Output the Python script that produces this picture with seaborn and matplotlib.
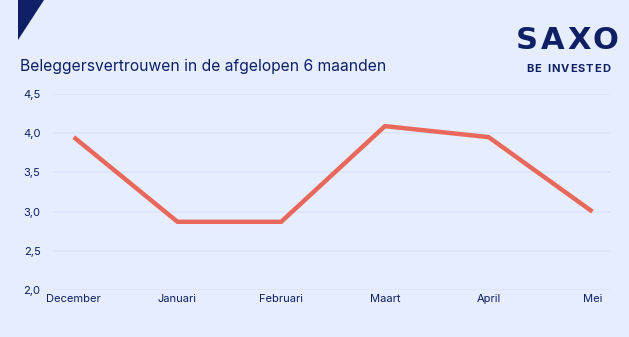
import matplotlib
matplotlib.use("Agg")
import matplotlib.pyplot as plt
import seaborn as sns
import pandas as pd
from matplotlib.patches import Polygon

months = ["December", "Januari", "Februari", "Maart", "April", "Mei"]
values = [3.95, 2.87, 2.87, 4.09, 3.95, 3.0]
yticks = [2.0, 2.5, 3.0, 3.5, 4.0, 4.5]
ytick_labels = ["2,0", "2,5", "3,0", "3,5", "4,0", "4,5"]
title = "Beleggersvertrouwen in de afgelopen 6 maanden"

BG = "#E6EDFC"
NAVY = "#0F1F66"
LINE = "#E8685B"
GRID = "#DCE4F8"

W, H = 629, 337

sns.set_theme(style="white")
plt.rcParams["font.family"] = ["Inter", "DejaVu Sans"]

df = pd.DataFrame({"month": months, "value": values})
df["pos"] = range(len(months))

fig = plt.figure(figsize=(W/100, H/100), dpi=100, facecolor=BG)
ax = fig.add_axes([53/W, 1 - 290/H, (610-53)/W, (290-94)/H])
ax.set_facecolor(BG)

sns.lineplot(data=df, x="pos", y="value", ax=ax, color=LINE, linewidth=3.2,
             solid_joinstyle="miter", solid_capstyle="butt")

ax.set_xlim(-0.2, 5.17)
ax.set_ylim(2.0, 4.5)
ax.set_yticks(yticks)
ax.set_yticklabels(ytick_labels, color=NAVY, fontsize=8)
ax.set_xticks(range(len(months)))
ax.set_xticklabels(months, color=NAVY, fontsize=8)
ax.tick_params(axis="both", length=0)
ax.tick_params(axis="y", pad=9)
ax.tick_params(axis="x", pad=3)
ax.grid(axis="y", color=GRID, linewidth=1.2)
ax.set_axisbelow(True)
for s in ax.spines.values():
    s.set_visible(False)
ax.set_xlabel("")
ax.set_ylabel("")

fig.text(20/W, 1 - 66/H, title, color=NAVY, fontsize=11.25, va="center", ha="left")

# SAXO logo letters placed individually (wide tracking)
for ch, cx in zip("SAXO", [526.5, 552.5, 579.0, 605.5]):
    fig.text(cx/W, 1 - 40.5/H, ch, color=NAVY, fontsize=22, fontweight="bold",
             family="DejaVu Sans", va="center", ha="center")

# BE INVESTED with letter spacing
renderer = fig.canvas.get_renderer()
tag = "BE INVESTED"
fs = 8
track = 1.0
widths = []
for ch in tag:
    t = fig.text(0, 0, ch if ch != " " else "I", fontsize=fs, fontweight="bold")
    w = t.get_window_extent(renderer).width
    if ch == " ":
        w *= 1.2
    widths.append(w)
    t.remove()
total = sum(widths) + track * (len(tag) - 1)
x = 568 - total / 2
for ch, w in zip(tag, widths):
    if ch != " ":
        fig.text(x/W, 1 - 69/H, ch, color=NAVY, fontsize=fs, fontweight="bold",
                 va="center", ha="left")
    x += w + track

tri = Polygon([[18/W, 1.0], [44/W, 1.0], [18/W, 1 - 40/H]], closed=True,
              transform=fig.transFigure, facecolor=NAVY, edgecolor="none")
fig.patches.append(tri)

fig.savefig("out.png", dpi=100, facecolor=BG)
